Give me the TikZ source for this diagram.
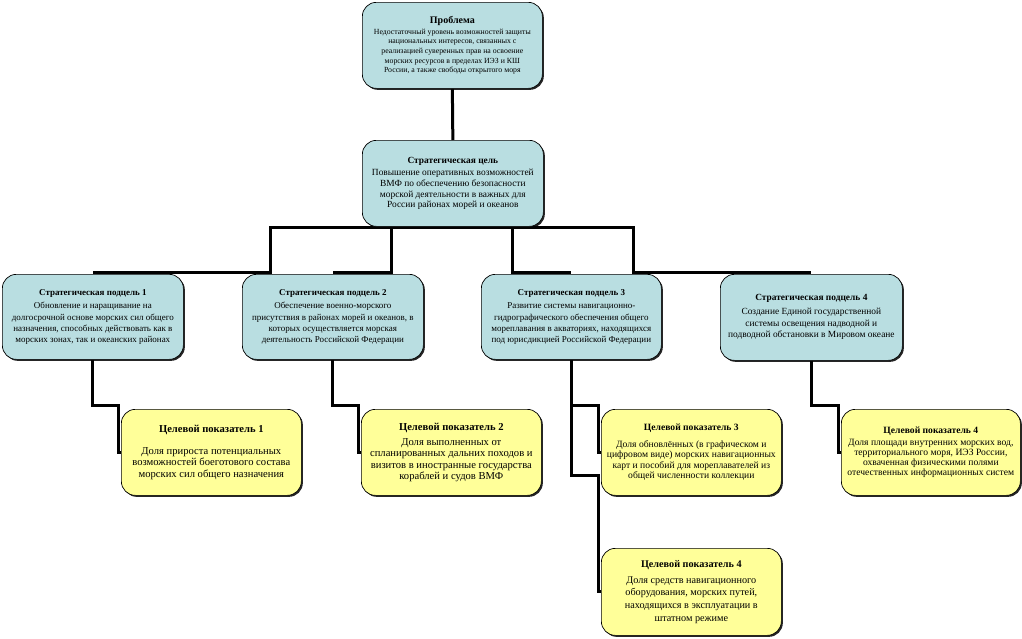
\documentclass[tikz,border=0pt]{standalone}
\usepackage{fontspec}
\setmainfont{Liberation Serif}
\usetikzlibrary{backgrounds, shadows, calc}
\definecolor{ink}{HTML}{000000}
\definecolor{aqua}{HTML}{B9DEE1}
\definecolor{lemon}{HTML}{FFFF99}
\tikzset{
  card/.style={
    draw=ink, line width=0.7pt, rounded corners=14pt, anchor=north west,
    align=center, inner sep=2pt, text=ink,
    drop shadow={shadow xshift=1.5pt, shadow yshift=-1.5pt, fill=ink, opacity=0.85},
  },
  carda/.style={card, fill=aqua},
  cardl/.style={card, fill=lemon},
  %
  link/.style={draw=ink, line width=3pt},
}
\newcommand{\hd}[1]{\textbf{#1}}

\begin{document}
\begin{tikzpicture}[x=1pt, y=-1pt]
  \useasboundingbox (0,0) rectangle (1022,638);

  % --- problem and goal -------------------------------------------------
  \node[carda, minimum width=180pt, minimum height=86pt,
        font=\fontsize{7.8}{9.6}\selectfont] (prob) at (362,2)
    {{\fontsize{10}{11}\selectfont\hd{Проблема}}\\[1pt]
     Недостаточный уровень возможностей защиты\\
     национальных интересов, связанных с\\
     реализацией суверенных прав на освоение\\
     морских ресурсов в пределах ИЭЗ и КШ\\
     России, а также свободы открытого моря};

  \node[carda, minimum width=181pt, minimum height=86pt,
        font=\fontsize{9.4}{10.7}\selectfont] (goal) at (362,140)
    {\hd{Стратегическая цель}\\[2pt]
     Повышение оперативных возможностей\\
     ВМФ по обеспечению безопасности\\
     морской деятельности в важных для\\
     России районах морей и океанов};

  % --- sub-goals --------------------------------------------------------
  \node[carda, minimum width=181pt, minimum height=85pt,
        font=\fontsize{9}{11.3}\selectfont] (sc1) at (2,274)
    {\hd{Стратегическая подцель 1}\\[2.5pt]
     Обновление и наращивание на\\
     долгосрочной основе морских сил общего\\
     назначения, способных действовать как в\\
     морских зонах, так и океанских районах};

  \node[carda, minimum width=181pt, minimum height=85pt,
        font=\fontsize{9}{11.3}\selectfont] (sc2) at (242,274)
    {\hd{Стратегическая подцель 2}\\[2.5pt]
     Обеспечение военно-морского\\
     присутствия в районах морей и океанов, в\\
     которых осуществляется морская\\
     деятельность Российской Федерации};

  \node[carda, minimum width=180pt, minimum height=85pt,
        font=\fontsize{9}{11.3}\selectfont] (sc3) at (481,274)
    {\hd{Стратегическая подцель 3}\\[2.5pt]
     Развитие системы навигационно-\\
     гидрографического обеспечения общего\\
     мореплавания в акваториях, находящихся\\
     под юрисдикцией Российской Федерации};

  \node[carda, minimum width=182pt, minimum height=86pt,
        font=\fontsize{9.4}{11.5}\selectfont] (sc4) at (720,274)
    {\hd{Стратегическая подцель 4}\\[2.5pt]
     Создание Единой государственной\\
     системы освещения надводной и\\
     подводной обстановки в Мировом океане};

  % --- target indicators ------------------------------------------------
  \node[cardl, minimum width=180pt, minimum height=86pt,
        font=\fontsize{10.6}{11.6}\selectfont] (ind1) at (121,409)
    {\hd{Целевой показатель 1}\\[10pt]
     Доля прироста потенциальных\\
     возможностей боеготового состава\\
     морских сил общего назначения};

  \node[cardl, minimum width=180pt, minimum height=86pt,
        font=\fontsize{10.6}{11.4}\selectfont] (ind2) at (361,409)
    {\hd{Целевой показатель 2}\\[3.5pt]
     Доля выполненных от\\
     спланированных дальних походов и\\
     визитов в иностранные государства\\
     кораблей и судов ВМФ};

  \node[cardl, minimum width=180pt, minimum height=86pt,
        font=\fontsize{9.6}{10.5}\selectfont] (ind3) at (601,409)
    {\hd{Целевой показатель 3}\\[6pt]
     Доля обновлённых (в графическом и\\
     цифровом виде) морских навигационных\\
     карт и пособий для мореплавателей из\\
     общей численности коллекции};

  \node[cardl, minimum width=179pt, minimum height=86pt,
        font=\fontsize{9.6}{10.2}\selectfont] (ind4) at (841,409)
    {\hd{Целевой показатель 4}\\[1.5pt]
     Доля площади внутренних морских вод,\\
     территориального моря, ИЭЗ России,\\
     охваченная физическими полями\\
     отечественных информационных систем};

  \node[cardl, minimum width=180pt, minimum height=87pt,
        font=\fontsize{10.2}{12.7}\selectfont] (ind5) at (601,548)
    {\hd{Целевой показатель 4}\\[3pt]
     Доля средств навигационного\\
     оборудования, морских путей,\\
     находящихся в эксплуатации в\\
     штатном режиме};

  % --- connectors -------------------------------------------------------
  \begin{scope}[on background layer]
    \draw[link] (prob.south) -- (goal.north);

    \draw[link] (goal.south) ++(0,1)
      -| ([xshift=178pt, yshift=2pt]sc1.north) -- ([yshift=2pt]sc1.north);
    \draw[link] (goal.south) ++(0,1)
      -| ([xshift=59pt, yshift=2pt]sc2.north) -- ([yshift=2pt]sc2.north);
    \draw[link] (goal.south) ++(0,1)
      -| ([xshift=-59pt, yshift=2pt]sc3.north) -- ([yshift=2pt]sc3.north);
    \draw[link] (goal.south) ++(0,1)
      -| ([xshift=-177.5pt, yshift=2pt]sc4.north) -- ([yshift=2pt]sc4.north);

    \draw[link] (sc1.south) -- ++(0,46)
      -| ([xshift=-2.5pt]ind1.west) -- (ind1.west);
    \draw[link] (sc2.south) -- ++(0,46)
      -| ([xshift=-2.5pt]ind2.west) -- (ind2.west);
    \draw[link] (sc3.south) -- ++(0,46)
      -| ([xshift=-2.5pt]ind3.west) -- (ind3.west);
    \draw[link] (sc3.south) -- ++(0,116)
      -| ([xshift=-2.5pt]ind5.west) -- (ind5.west);
    \draw[link] (sc4.south) -- ++(0,45)
      -| ([xshift=-2.5pt]ind4.west) -- (ind4.west);
  \end{scope}

\end{tikzpicture}
\end{document}
